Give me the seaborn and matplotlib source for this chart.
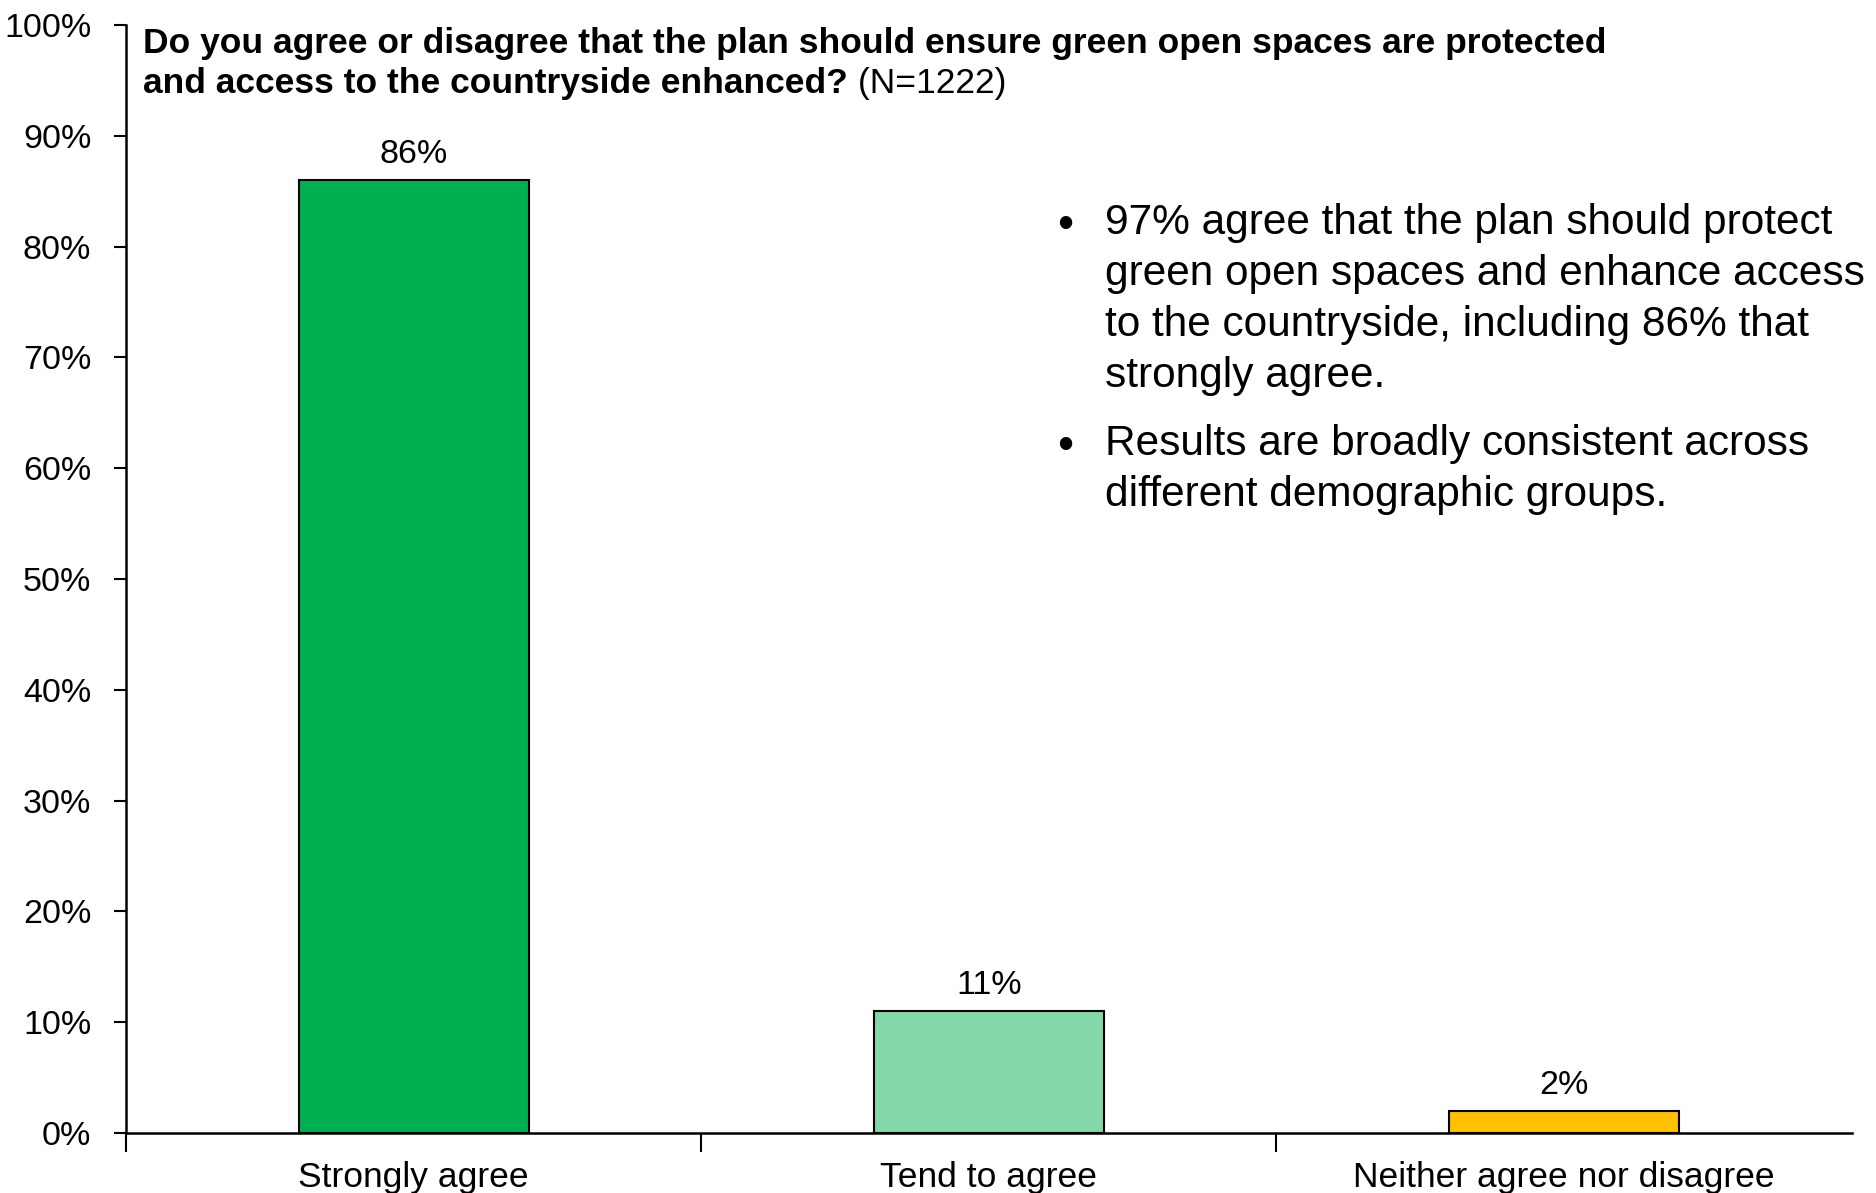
import matplotlib
matplotlib.use("Agg")
import matplotlib.pyplot as plt
import seaborn as sns

# Daten
categories = ["Strongly agree", "Tend to agree", "Neither agree nor disagree"]
values = [86, 11, 2]
colors = ["#00B050", "#82D8A8", "#FFC000"]
y_ticks = list(range(0, 101, 10))

sns.set_style("white")
plt.rcParams['font.family'] = ['Liberation Sans', 'DejaVu Sans']
plt.rcParams['text.color'] = 'black'
plt.rcParams['xtick.color'] = 'black'
plt.rcParams['ytick.color'] = 'black'

fig = plt.figure(figsize=(18.76, 11.93), dpi=100)
ax = fig.add_axes([0.0672, 0.0503, 0.9198, 0.9287])

sns.barplot(x=categories, y=values, hue=categories, palette=colors, width=0.4,
            edgecolor="black", linewidth=1.5, legend=False, ax=ax, saturation=1)

for c in ax.containers:
    ax.bar_label(c, labels=[f"{v:.0f}%" for v in c.datavalues], padding=7, fontsize=24.5)

ax.set_ylim(0, 100)
ax.set_xlim(-0.5, 2.5)
ax.set_yticks(y_ticks)
ax.set_yticklabels([f"{t}%" for t in y_ticks], fontsize=24.5)
ax.tick_params(axis="y", length=9, width=1.5, pad=16, left=True)
ax.tick_params(axis="x", length=0, labelsize=25.5, pad=20)
ax.set_xticks([-0.5, 0.5, 1.5], minor=True)
ax.tick_params(axis="x", which="minor", length=14, width=1.5, bottom=True)
ax.set_xlabel("")
ax.set_ylabel("")
sns.despine(ax=ax)
for s in ["left", "bottom"]:
    ax.spines[s].set_linewidth(1.8)
    ax.spines[s].set_color("black")

# Titel
fig.text(143 / 1876, 1 - 43 / 1193,
         "Do you agree or disagree that the plan should ensure green open spaces are protected",
         fontsize=25.5, fontweight="bold", va="center", ha="left")
t2 = fig.text(143 / 1876, 1 - 83 / 1193, "and access to the countryside enhanced?",
              fontsize=25.5, fontweight="bold", va="center", ha="left")
ax.annotate(" (N=1222)", xy=(1, 0.5), xycoords=t2, va="center", ha="left", fontsize=25.5)

# Stichpunkte
bullets = [
    ("97% agree that the plan should protect\ngreen open spaces and enhance access\n"
     "to the countryside, including 86% that\nstrongly agree.", 226),
    ("Results are broadly consistent across\ndifferent demographic groups.", 447),
]
for txt, ypx in bullets:
    fig.text(1057 / 1876, 1 - ypx / 1193, "•", fontsize=33, va="center", ha="left")
    fig.text(1105 / 1876, 1 - (ypx - 23) / 1193, txt, fontsize=30.5, va="top", ha="left",
             linespacing=1.36)

fig.savefig("out.png", dpi=100)
